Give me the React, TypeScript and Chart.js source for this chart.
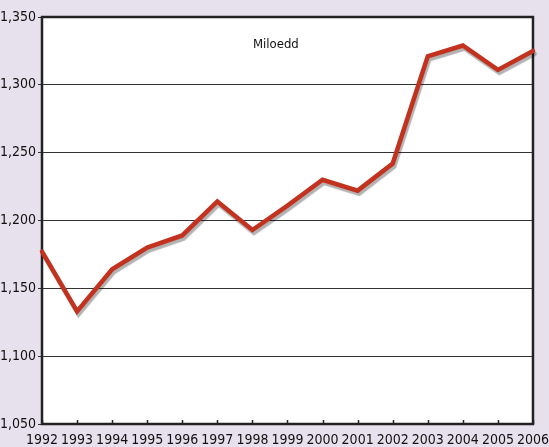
import React, { useEffect, useRef } from "react";
import { Chart, registerables } from "chart.js";

Chart.register(...registerables);

const years = ["1992","1993","1994","1995","1996","1997","1998","1999","2000","2001","2002","2003","2004","2005","2006"];
const values = [1177, 1133, 1164, 1180, 1189, 1214, 1193, 1211, 1230, 1222, 1242, 1321, 1329, 1311, 1325];
const unitLabel = "Miloedd";
const FONT = "'DejaVu Sans Condensed', 'DejaVu Sans', sans-serif";

export default function App() {
  const ref = useRef<HTMLCanvasElement>(null);
  useEffect(() => {
    const shadow = {
      id: "shadow",
      beforeDatasetDraw(chart: any) {
        const c = chart.ctx;
        c.save();
        c.shadowColor = "rgba(0,0,0,0.3)";
        c.shadowOffsetX = 1.5;
        c.shadowOffsetY = 3;
        c.shadowBlur = 1;
      },
      afterDatasetDraw(chart: any) {
        chart.ctx.restore();
      },
    };
    const bg = {
      id: "bg",
      beforeDraw(chart: any) {
        const c = chart.ctx;
        const a = chart.chartArea;
        c.save();
        c.fillStyle = "#ffffff";
        c.fillRect(a.left, a.top, a.right - a.left, a.bottom - a.top);
        c.restore();
      },
    };
    const frame = {
      id: "frame",
      beforeDatasetsDraw(chart: any) {
        const c = chart.ctx;
        const a = chart.chartArea;
        c.save();
        c.strokeStyle = "#222";
        c.lineWidth = 2.5;
        c.strokeRect(a.left, a.top, a.right - a.left, a.bottom - a.top);
        c.lineWidth = 1.5;
        const xs = chart.scales.x;
        for (let i = 0; i < years.length; i++) {
          const px = Math.round(xs.getPixelForValue(i)) + 0.5;
          c.beginPath();
          c.moveTo(px, a.bottom);
          c.lineTo(px, a.bottom - 4);
          c.stroke();
        }
        c.fillStyle = "#111";
        c.font = "condensed 13px " + FONT;
        c.textAlign = "left";
        c.textBaseline = "middle";
        c.fillText(unitLabel, a.left + 211, a.top + 28);
        c.restore();
      },
    };
    const tickFont = { family: FONT, size: 14, weight: "condensed" as any };
    const chart = new Chart(ref.current!, {
      type: "line",
      data: {
        labels: years,
        datasets: [
          {
            data: values,
            borderColor: "#c2321f",
            borderWidth: 4.5,
            pointRadius: 0,
            tension: 0,
            fill: false,
            clip: false as any,
            borderCapStyle: "round",
            borderJoinStyle: "miter",
          },
        ],
      },
      options: {
        animation: false,
        responsive: false,
        maintainAspectRatio: false,
        layout: { padding: { top: 17, right: 16, left: 0, bottom: 0 } },
        plugins: { legend: { display: false }, tooltip: { enabled: false }, title: { display: false } },
        scales: {
          x: {
            type: "category",
            offset: false,
            border: { display: false },
            grid: { display: false },
            ticks: { color: "#111", font: tickFont, padding: 0, maxRotation: 0, autoSkip: false },
            afterFit(s: any) { s.height = 23; },
          },
          y: {
            min: 1050,
            max: 1350,
            border: { display: false },
            grid: { color: "#333", lineWidth: 1, tickLength: 4, tickColor: "#333" },
            ticks: {
              stepSize: 50,
              color: "#111",
              font: tickFont,
              padding: 2,
              callback: (v: any) => Number(v).toLocaleString("en-US"),
            },
            afterFit(s: any) { s.width = 42; },
          },
        },
      },
      plugins: [bg, frame, shadow],
    });
    return () => chart.destroy();
  }, []);
  return (
    <div style={{ position: "fixed", left: 0, top: 0, width: 549, height: 447, background: "#e7e1ed" }}>
      <canvas ref={ref} width={549} height={447} style={{ display: "block" }} />
    </div>
  );
}
